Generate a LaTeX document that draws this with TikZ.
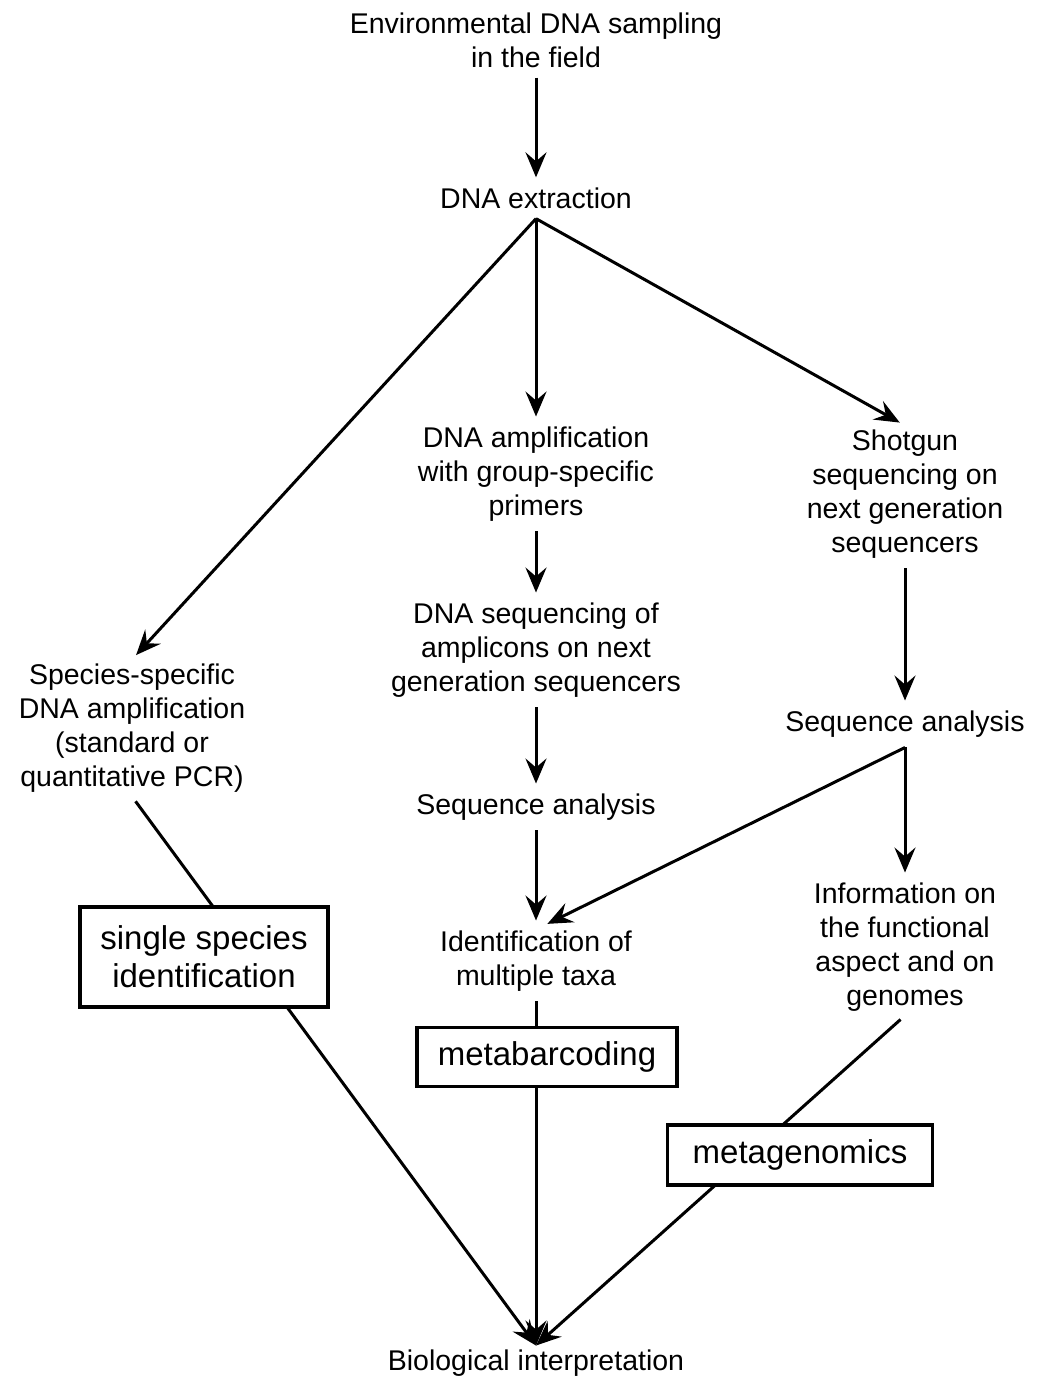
\documentclass[tikz,border=0pt]{standalone}
\usepackage{fontspec}
\setmainfont{Liberation Sans}
\usetikzlibrary{arrows.meta}

\begin{document}
\begin{tikzpicture}[x=1pt,y=-1pt,
  lbl/.style={align=center,font=\fontsize{28.5}{34}\selectfont,inner sep=4pt},
  tagbox/.style={draw,line width=3.2pt,fill=white,align=center,
    font=\fontsize{33}{38}\selectfont,inner sep=2pt},
  flow/.style={line width=3pt,shorten <=6pt,shorten >=6pt,
    -{Stealth[length=25pt,width=21pt,inset=9pt]}},
  link/.style={line width=3pt}]
\useasboundingbox (0,0) rectangle (1040,1379);
% text steps
\node[lbl] (env) at (536,40) {Environmental DNA sampling\\in the field};
\node[lbl] (ext) at (536,198) {DNA extraction};
\node[lbl] (amp) at (536,474) {DNA amplification\\with group-specific\\primers};
\node[lbl] (shot) at (905,494) {Shotgun\\sequencing on\\next generation\\sequencers};
\node[lbl] (species) at (132,728) {Species-specific\\DNA amplification\\(standard or\\quantitative PCR)};
\node[lbl] (seqamp) at (536,650) {DNA sequencing of\\amplicons on next\\generation sequencers};
\node[lbl] (anaR) at (905,724) {Sequence analysis};
\node[lbl] (anaM) at (536,807) {Sequence analysis};
\node[lbl] (ident) at (536,961) {Identification of\\multiple taxa};
\node[lbl] (info) at (905,947) {Information on\\the functional\\aspect and on\\genomes};
\node[lbl] (bio) at (536,1363) {Biological interpretation};
% split points
\coordinate (extsplit) at ([yshift=-6pt]ext.south);
\coordinate (anasplit) at ([yshift=-6pt]anaR.south);
% arrows
\draw[flow] (env) -- (ext);
\draw[flow,shorten <=0pt] (extsplit) -- (species.north);
\draw[flow,shorten <=0pt] (extsplit) -- (amp.north);
\draw[flow,shorten <=0pt] (extsplit) -- (shot.north);
\draw[flow] (amp) -- (seqamp);
\draw[flow] (seqamp) -- (anaM);
\draw[flow] (anaM) -- (ident);
\draw[flow] (shot) -- (anaR);
\draw[flow,shorten <=0pt] (anasplit) -- (info.north);
\draw[flow,shorten <=0pt] (anasplit) -- ([xshift=6pt]ident.north);
\draw[flow,shorten >=0pt] (species.south) -- (bio.north);
\draw[flow,shorten >=0pt] (ident.south) -- (bio.north);
\draw[flow,shorten >=0pt] (info.south) -- (bio.north);
% method boxes
\node[tagbox,minimum width=248pt,minimum height=100pt] (single) at (204,957) {single species\\identification};
\node[tagbox,minimum width=260pt,minimum height=59pt] (metabar) at (547,1057) {metabarcoding};
\node[tagbox,minimum width=265pt,minimum height=60pt] (metagen) at (800,1155) {metagenomics};
\end{tikzpicture}
\end{document}
